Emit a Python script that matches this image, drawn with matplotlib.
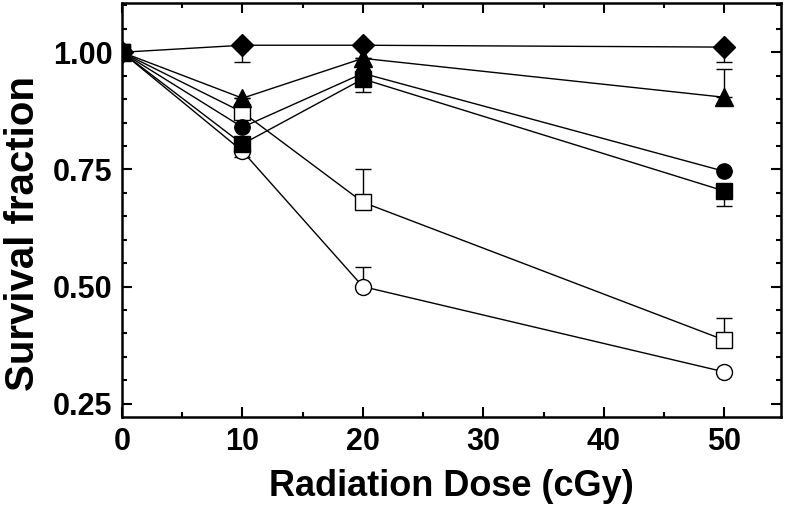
import matplotlib
matplotlib.use("Agg")
import matplotlib.pyplot as plt
from matplotlib.ticker import MultipleLocator

dose = [0, 10, 20, 50]

# series values (survival fraction)
open_circle = [1.00, 0.789, 0.500, 0.318]
open_square = [1.00, 0.872, 0.680, 0.386]
filled_square = [1.00, 0.804, 0.943, 0.704]
filled_circle = [1.00, 0.840, 0.955, 0.746]
triangle = [1.00, 0.902, 0.987, 0.904]
diamond = [1.00, 1.015, 1.015, 1.011]

# one-sided errors (lower, upper)
open_circle_err = ([0, 0.012, 0, 0], [0, 0, 0.042, 0])
open_square_err = ([0, 0, 0, 0], [0, 0, 0.071, 0.047])
filled_square_err = ([0, 0, 0.028, 0.032], [0, 0, 0, 0])
filled_circle_err = ([0, 0, 0, 0], [0, 0, 0, 0])
triangle_err = ([0, 0, 0, 0], [0, 0, 0, 0.060])
diamond_err = ([0, 0.036, 0, 0.031], [0, 0, 0, 0])

xticks = [0, 10, 20, 30, 40, 50]
yticks = [0.25, 0.50, 0.75, 1.00]

plt.rcParams['font.family'] = ['Liberation Sans', 'DejaVu Sans']
plt.rcParams['font.weight'] = 'bold'

fig = plt.figure(figsize=(7.89, 5.09), dpi=100)
ax = fig.add_axes([0.1546, 0.181, 0.835, 0.813])

series = [
    (open_circle, open_circle_err, 'o', 'white', 11.5),
    (open_square, open_square_err, 's', 'white', 11),
    (filled_circle, filled_circle_err, 'o', 'black', 11),
    (triangle, triangle_err, '^', 'black', 13),
    (diamond, diamond_err, 'D', 'black', 11),
    (filled_square, filled_square_err, 's', 'black', 11),
]
for vals, err, mk, fc, ms in series:
    ax.errorbar(dose, vals, yerr=[err[0], err[1]], fmt='none', ecolor='black',
                elinewidth=1.0, capsize=6, capthick=1.0, zorder=2)
    ax.plot(dose, vals, color='black', lw=1.0, marker=mk, markersize=ms,
            markerfacecolor=fc, markeredgecolor='black', markeredgewidth=1.0,
            zorder=3)

ax.set_xlim(0, 54.7)
ax.set_ylim(0.222, 1.105)
ax.set_xticks(xticks)
ax.set_yticks(yticks)
ax.set_yticklabels([f"{v:.2f}" for v in yticks])
ax.xaxis.set_minor_locator(MultipleLocator(5))
ax.yaxis.set_minor_locator(MultipleLocator(0.05))
ax.tick_params(which='both', direction='in', top=True, right=True, width=1.5,
               labelsize=22, pad=7)
ax.tick_params(which='major', length=7)
ax.tick_params(which='minor', length=3.6)
for s in ax.spines.values():
    s.set_linewidth(1.8)

ax.set_xlabel('Radiation Dose (cGy)', fontsize=26, fontweight='bold', labelpad=9)
ax.set_ylabel('Survival fraction', fontsize=29, fontweight='bold')
ax.yaxis.set_label_coords(-0.121, 0.442)

fig.savefig('out.png', dpi=100)
